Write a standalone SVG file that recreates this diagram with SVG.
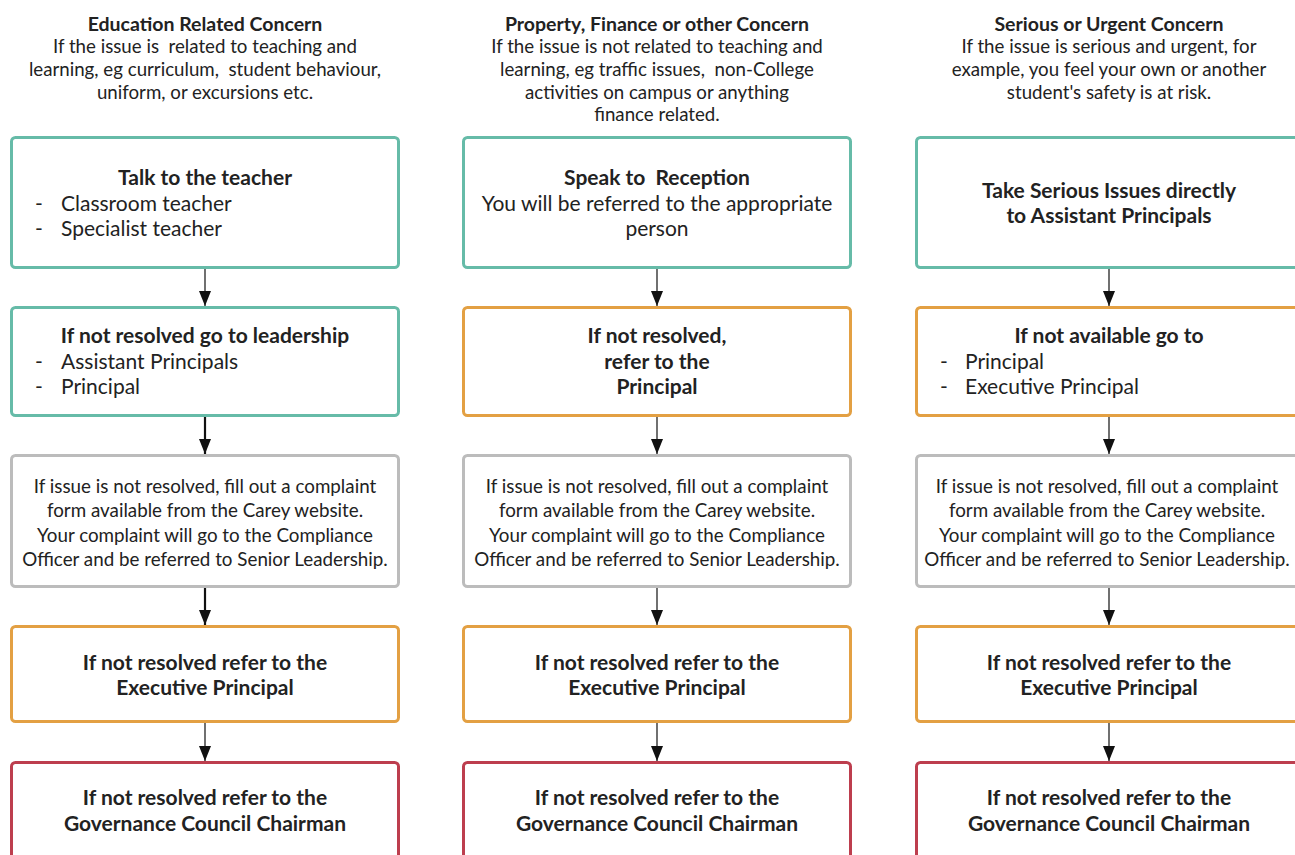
<svg xmlns="http://www.w3.org/2000/svg" width="1295" height="855" viewBox="0 0 1295 855">
<defs>
<style>
text{font-family:Lato,"Liberation Sans",sans-serif;fill:#222;white-space:pre;}
.h{font-size:19.5px;font-weight:bold;text-anchor:middle;}
.s{font-size:18.7px;text-anchor:middle;}
.b{font-size:21px;font-weight:bold;text-anchor:middle;}
.r{font-size:21px;}
.rc{font-size:21px;text-anchor:middle;}
.g{font-size:18.8px;text-anchor:middle;}
.box{fill:#fff;stroke-width:3;}
.teal{stroke:#66bba8;}
.orange{stroke:#e3a043;}
.gray{stroke:#bcbcbc;}
.red{stroke:#bd3e4e;}
.c1{stroke:#111;stroke-width:1.2;fill:none;}
.c2{stroke:#111;stroke-width:2.2;fill:none;}
</style>
<marker id="ah" markerUnits="userSpaceOnUse" markerWidth="16" markerHeight="12" refX="15" refY="6" orient="auto" viewBox="0 0 16 12">
<path d="M0,0 L15,6 L0,12 Z" fill="#111"/>
</marker>
</defs>
<rect width="1295" height="855" fill="#fff"/>

<g id="header1">
<text class="h" x="205" y="31">Education Related Concern</text>
<text class="s" x="205" y="53" xml:space="preserve">If the issue is  related to teaching and</text>
<text class="s" x="205" y="76" xml:space="preserve">learning, eg curriculum,  student behaviour,</text>
<text class="s" x="205" y="99">uniform, or excursions etc.</text>
</g>
<g id="header2">
<text class="h" x="657" y="31">Property, Finance or other Concern</text>
<text class="s" x="657" y="53">If the issue is not related to teaching and</text>
<text class="s" x="657" y="76" xml:space="preserve">learning, eg traffic issues,  non-College</text>
<text class="s" x="657" y="99">activities on campus or anything</text>
<text class="s" x="657" y="121">finance related.</text>
</g>
<g id="header3">
<text class="h" x="1109" y="31">Serious or Urgent Concern</text>
<text class="s" x="1109" y="53">If the issue is serious and urgent, for</text>
<text class="s" x="1109" y="76">example, you feel your own or another</text>
<text class="s" x="1109" y="99">student's safety is at risk.</text>
</g>

<g id="connectors">
<line class="c1" x1="205" y1="268" x2="205" y2="306" marker-end="url(#ah)"/>
<line class="c2" x1="205" y1="416" x2="205" y2="454" marker-end="url(#ah)"/>
<line class="c2" x1="205" y1="587" x2="205" y2="625" marker-end="url(#ah)"/>
<line class="c1" x1="205" y1="722" x2="205" y2="761" marker-end="url(#ah)"/>
<line class="c1" x1="657" y1="268" x2="657" y2="306" marker-end="url(#ah)"/>
<line class="c1" x1="657" y1="416" x2="657" y2="454" marker-end="url(#ah)"/>
<line class="c1" x1="657" y1="587" x2="657" y2="625" marker-end="url(#ah)"/>
<line class="c1" x1="657" y1="722" x2="657" y2="761" marker-end="url(#ah)"/>
<line class="c1" x1="1109" y1="268" x2="1109" y2="306" marker-end="url(#ah)"/>
<line class="c1" x1="1109" y1="416" x2="1109" y2="454" marker-end="url(#ah)"/>
<line class="c1" x1="1109" y1="587" x2="1109" y2="625" marker-end="url(#ah)"/>
<line class="c1" x1="1109" y1="722" x2="1109" y2="761" marker-end="url(#ah)"/>
</g>

<g id="c1r1">
<rect class="box teal" x="11.5" y="137.5" width="387" height="130" rx="4"/>
<text class="b" x="205" y="185">Talk to the teacher</text>
<text class="r" x="35" y="211">-</text><text class="r" x="61" y="211">Classroom teacher</text>
<text class="r" x="35" y="236">-</text><text class="r" x="61" y="236">Specialist teacher</text>
</g>
<g id="c1r2">
<rect class="box teal" x="11.5" y="307.5" width="387" height="108" rx="4"/>
<text class="b" x="205" y="343">If not resolved go to leadership</text>
<text class="r" x="35" y="369">-</text><text class="r" x="61" y="369">Assistant Principals</text>
<text class="r" x="35" y="394">-</text><text class="r" x="61" y="394">Principal</text>
</g>
<g id="c1r3">
<rect class="box gray" x="11.5" y="455.5" width="387" height="131" rx="4"/>
<text class="g" x="205" y="493">If issue is not resolved, fill out a complaint</text>
<text class="g" x="205" y="517">form available from the Carey website.</text>
<text class="g" x="205" y="542">Your complaint will go to the Compliance</text>
<text class="g" x="205" y="566">Officer and be referred to Senior Leadership.</text>
</g>
<g id="c1r4">
<rect class="box orange" x="11.5" y="626.5" width="387" height="95" rx="4"/>
<text class="b" x="205" y="670">If not resolved refer to the</text>
<text class="b" x="205" y="695">Executive Principal</text>
</g>
<g id="c1r5">
<rect class="box red" x="11.5" y="762.5" width="387" height="110" rx="4"/>
<text class="b" x="205" y="805">If not resolved refer to the</text>
<text class="b" x="205" y="831">Governance Council Chairman</text>
</g>

<g id="c2r1">
<rect class="box teal" x="463.5" y="137.5" width="387" height="130" rx="4"/>
<text class="b" x="657" y="185" xml:space="preserve">Speak to  Reception</text>
<text class="rc" x="657" y="211">You will be referred to the appropriate</text>
<text class="rc" x="657" y="236">person</text>
</g>
<g id="c2r2">
<rect class="box orange" x="463.5" y="307.5" width="387" height="108" rx="4"/>
<text class="b" x="657" y="343">If not resolved,</text>
<text class="b" x="657" y="369">refer to the</text>
<text class="b" x="657" y="394">Principal</text>
</g>
<g id="c2r3">
<rect class="box gray" x="463.5" y="455.5" width="387" height="131" rx="4"/>
<text class="g" x="657" y="493">If issue is not resolved, fill out a complaint</text>
<text class="g" x="657" y="517">form available from the Carey website.</text>
<text class="g" x="657" y="542">Your complaint will go to the Compliance</text>
<text class="g" x="657" y="566">Officer and be referred to Senior Leadership.</text>
</g>
<g id="c2r4">
<rect class="box orange" x="463.5" y="626.5" width="387" height="95" rx="4"/>
<text class="b" x="657" y="670">If not resolved refer to the</text>
<text class="b" x="657" y="695">Executive Principal</text>
</g>
<g id="c2r5">
<rect class="box red" x="463.5" y="762.5" width="387" height="110" rx="4"/>
<text class="b" x="657" y="805">If not resolved refer to the</text>
<text class="b" x="657" y="831">Governance Council Chairman</text>
</g>

<g id="c3r1">
<rect class="box teal" x="916.5" y="137.5" width="387" height="130" rx="4"/>
<text class="b" x="1109" y="198">Take Serious Issues directly</text>
<text class="b" x="1109" y="223">to Assistant Principals</text>
</g>
<g id="c3r2">
<rect class="box orange" x="916.5" y="307.5" width="387" height="108" rx="4"/>
<text class="b" x="1109" y="343">If not available go to</text>
<text class="r" x="940" y="369">-</text><text class="r" x="965" y="369">Principal</text>
<text class="r" x="940" y="394">-</text><text class="r" x="965" y="394">Executive Principal</text>
</g>
<g id="c3r3">
<rect class="box gray" x="916.5" y="455.5" width="387" height="131" rx="4"/>
<text class="g" x="1107" y="493">If issue is not resolved, fill out a complaint</text>
<text class="g" x="1107" y="517">form available from the Carey website.</text>
<text class="g" x="1107" y="542">Your complaint will go to the Compliance</text>
<text class="g" x="1107" y="566">Officer and be referred to Senior Leadership.</text>
</g>
<g id="c3r4">
<rect class="box orange" x="916.5" y="626.5" width="387" height="95" rx="4"/>
<text class="b" x="1109" y="670">If not resolved refer to the</text>
<text class="b" x="1109" y="695">Executive Principal</text>
</g>
<g id="c3r5">
<rect class="box red" x="916.5" y="762.5" width="387" height="110" rx="4"/>
<text class="b" x="1109" y="805">If not resolved refer to the</text>
<text class="b" x="1109" y="831">Governance Council Chairman</text>
</g>
</svg>
